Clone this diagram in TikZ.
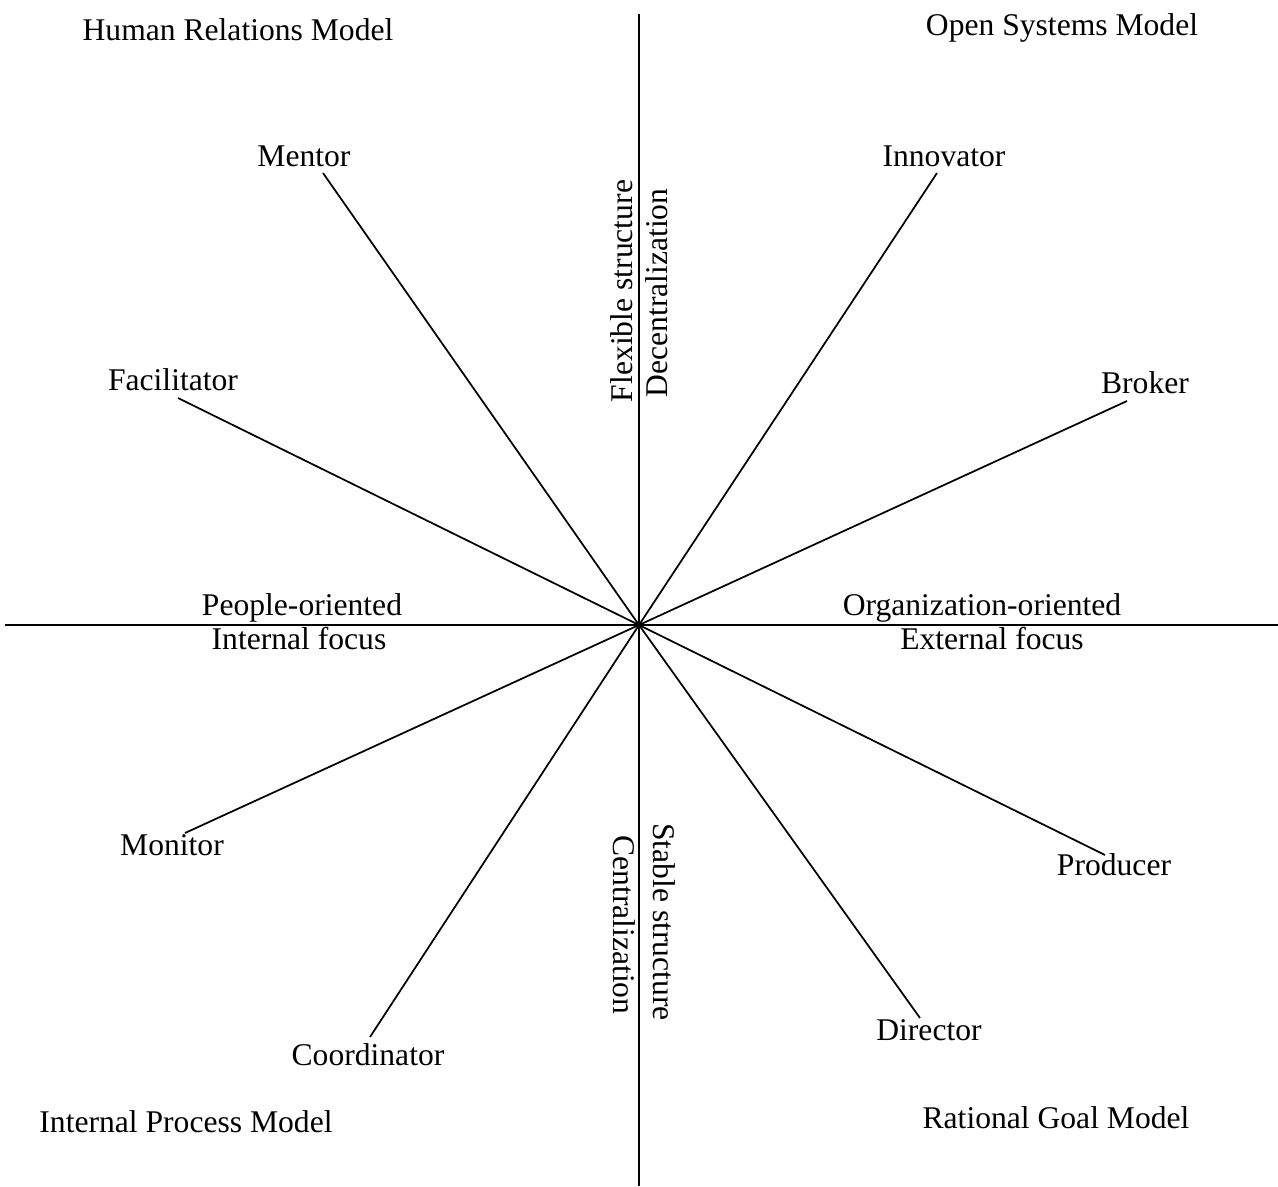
\documentclass[tikz,border=0pt]{standalone}
\usepackage{fontspec}
\setmainfont{Liberation Serif}
\usepackage{tikz}

\begin{document}
\begin{tikzpicture}[x=0.75pt,y=-0.75pt,
    every node/.style={inner sep=0pt,anchor=base,font=\fontsize{23.7}{28}\selectfont},
    axisline/.style={line width=1.5pt},
    roleline/.style={line width=1.3pt}]
    \useasboundingbox (0,0) rectangle (1278,1186);
    % axes
    \coordinate (c) at (639,625);
    \coordinate (top) at (639,14);
    \coordinate (bottom) at (639,1186);
    \coordinate (left) at (5,625);
    \coordinate (right) at (1278,625);
    \draw[axisline] (top) -- (bottom);
    \draw[axisline] (left) -- (right);
    % quadrant models
    \node (hrm) at (238,40) {Human Relations Model};
    \node (osm) at (1062,35) {Open Systems Model};
    \node (ipm) at (186,1132) {Internal Process Model};
    \node (rgm) at (1056,1128) {Rational Goal Model};
    % axis labels
    \node (people) at (302,615) {People-oriented};
    \node (internal) at (299,649) {Internal focus};
    \node (org) at (982,615) {Organization-oriented};
    \node (external) at (992,649) {External focus};
    \node[rotate=90] (flexible) at (632,291) {Flexible structure};
    \node[rotate=90] (decentral) at (667,293) {Decentralization};
    \node[rotate=-90] (stable) at (653,922) {Stable structure};
    \node[rotate=-90] (central) at (613,925) {Centralization};
    % roles
    \node (mentor) at (304,166) {Mentor};
    \node (innovator) at (944,166) {Innovator};
    \node (facilitator) at (173,390) {Facilitator};
    \node (broker) at (1145,393) {Broker};
    \node (monitor) at (172,855) {Monitor};
    \node (producer) at (1114,875) {Producer};
    \node (coordinator) at (368,1065) {Coordinator};
    \node (director) at (929,1040) {Director};
    % spokes
    \coordinate (mentor-tip) at (323,173);
    \coordinate (innovator-tip) at (937,173);
    \coordinate (facilitator-tip) at (178,398);
    \coordinate (broker-tip) at (1127,401);
    \coordinate (monitor-tip) at (185,833);
    \coordinate (producer-tip) at (1105,855);
    \coordinate (coordinator-tip) at (370,1037);
    \coordinate (director-tip) at (920,1018);
    \foreach \r in {mentor,innovator,facilitator,broker,monitor,producer,coordinator,director}
        \draw[roleline] (c) -- (\r-tip);
\end{tikzpicture}
\end{document}
